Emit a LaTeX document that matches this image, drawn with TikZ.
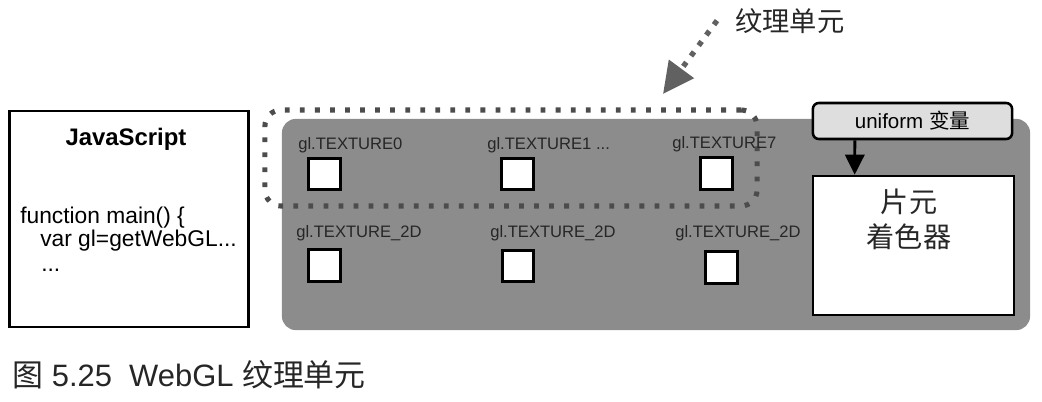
\documentclass[tikz,border=0pt]{standalone}
\usepackage{fontspec}
\setmainfont{Liberation Sans}
\newfontfamily\cjk{Noto Sans CJK SC}
\usetikzlibrary{arrows.meta, positioning}

\begin{document}
\begin{tikzpicture}[
    x=0.025cm, y=-0.025cm,
    codebox/.style={rectangle, draw, line width=2pt, fill=white, minimum width=5.98cm, minimum height=5.4cm},
    panelbox/.style={rectangle, fill=black!45, rounded corners=0.35cm, minimum width=18.7cm, minimum height=5.28cm},
    unitframe/.style={rectangle, draw=black!70, line width=3.6pt, dash pattern=on 3.4pt off 7.3pt, rounded corners=0.4cm, minimum width=12.3cm, minimum height=2.4cm},
    texunit/.style={rectangle, draw, line width=2pt, fill=white, minimum size=0.78cm, inner sep=0pt},
    texlabel/.style={anchor=base west, inner sep=0pt, text=black!85, font=\fontsize{11.8}{14}\selectfont},
    uniformbox/.style={rectangle, draw, line width=1.8pt, fill=black!13, rounded corners=0.15cm, minimum width=4.98cm, minimum height=0.9cm, font=\fontsize{14.6}{17}\selectfont},
    shaderbox/.style={rectangle, draw, line width=2pt, fill=white, minimum width=5.02cm, minimum height=3.47cm},
    arrow/.style={line width=2pt, -{Triangle[length=0.5cm,width=0.48cm]}},
    unitarrow/.style={draw=black!62, line width=3.8pt, dash pattern=on 3.6pt off 5.6pt, -{Triangle[length=0.78cm,width=0.75cm]}}
]
\useasboundingbox (0,0) rectangle (1042,402);

% JavaScript 程序
\node (js) [codebox] at (129,219) {};
\node (jstitle) [anchor=base, font=\fontsize{17}{20}\selectfont\bfseries] at (126,145) {JavaScript};
\node (code1) [anchor=base west, inner sep=0pt, font=\fontsize{16.2}{19}\selectfont] at (20,223) {function main() \{};
\node (code2) [anchor=base west, inner sep=0pt, font=\fontsize{16.2}{19}\selectfont] at (40,246) {var gl=getWebGL...};
\node (code3) [anchor=base west, inner sep=0pt, font=\fontsize{16.2}{19}\selectfont] at (41,271) {...};

% 灰色区域与纹理单元
\node (panel) [panelbox] at (656,224.5) {};
\node (frame) [unitframe] at (511,158) {};

% 第一行:纹理单元
\node (tex0) [texunit] at (324.5,174) {};
\node (tex1) [texunit] at (517.5,174) {};
\node (tex7) [texunit] at (716.5,173.5) {};
\node (lab0) [texlabel] at (298,149) {gl.TEXTURE0};
\node (lab1) [texlabel] at (487,149) {gl.TEXTURE1 ...};
\node (lab7) [texlabel] at (672,148) {gl.TEXTURE7};

% 第二行:纹理对象
\node (tgt0) [texunit] at (324.5,265.5) {};
\node (tgt1) [texunit] at (518,266) {};
\node (tgt7) [texunit] at (721.5,267.5) {};
\node (tlab0) [texlabel] at (296,237) {gl.TEXTURE\_2D};
\node (tlab1) [texlabel] at (490,237) {gl.TEXTURE\_2D};
\node (tlab7) [texlabel] at (675,237) {gl.TEXTURE\_2D};

% 片元着色器
\node (uniform) [uniformbox] at (912.5,121) {uniform {\cjk 变量}};
\node (shader) [shaderbox] at (913.5,245.5) {};
\node (shadertext) [align=center, text=black!85, font=\cjk\fontsize{20}{25}\selectfont] at (909,219) {片元\\着色器};
\draw [arrow] ([xshift=-1.44cm]uniform.south) -- ([xshift=-1.47cm]shader.north);

% 标注
\node (unitlabel) [anchor=base west, inner sep=0pt, text=black!85, font=\cjk\fontsize{19.4}{22}\selectfont] at (735,31) {纹理单元};
\coordinate (unittip) at (663,94);
\draw [unitarrow] ([shift={(-18,0)}]unitlabel.west) -- (unittip);

% 图题
\node (caption) [anchor=base west, inner sep=0pt, text=black!85, font=\fontsize{22}{26}\selectfont] at (12,386) {{\cjk 图} 5.25\ \ WebGL {\cjk 纹理单元}};

\end{tikzpicture}
\end{document}
